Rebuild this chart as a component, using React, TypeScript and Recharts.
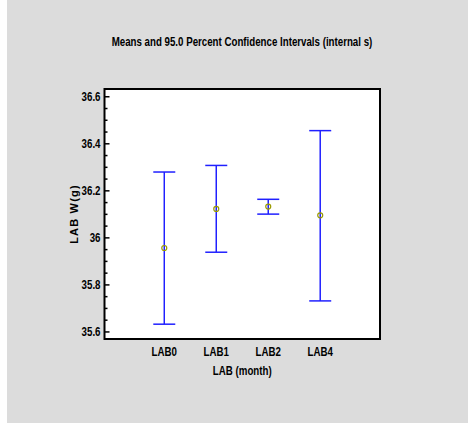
import { ComposedChart, Scatter, ErrorBar, XAxis, YAxis, ReferenceArea } from "recharts";

// data
const labels = ["LAB0", "LAB1", "LAB2", "LAB4"];
const positions = [1, 2, 3, 4];
const means = [35.957, 36.123, 36.133, 36.096];
const lower = [35.633, 35.939, 36.101, 35.732];
const upper = [36.28, 36.308, 36.164, 36.456];

const yMajor = [35.6, 35.8, 36, 36.2, 36.4, 36.6];
const yTicks = [
  35.6, 35.65, 35.7, 35.75, 35.8, 35.85, 35.9, 35.95, 36, 36.05, 36.1,
  36.15, 36.2, 36.25, 36.3, 36.35, 36.4, 36.45, 36.5, 36.55, 36.6,
];
const xDomain = [-0.15, 5.15];
const yDomain = [35.57, 36.633];

const data = positions.map((pos, i) => ({
  pos,
  mean: means[i],
  err: [means[i] - lower[i], upper[i] - means[i]],
}));

const FONT = '"Liberation Sans", Arial, sans-serif';
const NARROW = 0.81; // no narrow font installed, squeeze horizontally
const MARGIN = 4;

const isMajor = (v: number) => yMajor.some(m => Math.abs(m - v) < 1e-6);

// bold text squeezed like Arial Narrow
const Narrow = ({ x, y, anchor, children }: any) => (
  <text
    transform={`translate(${x} ${y}) scale(${NARROW} 1)`}
    textAnchor={anchor}
    fontFamily={FONT}
    fontWeight="bold"
    fontSize={12}
    fill="#000"
  >
    {children}
  </text>
);

const LeftTick = (props: any) => {
  const { x, y, payload } = props;
  const v = payload.value;
  const major = isMajor(v);
  const ax = x + MARGIN;
  return (
    <g>
      <line x1={ax} x2={ax + (major ? 5 : 3)} y1={y} y2={y} stroke="#000" strokeWidth={1.5} />
      {major && (
        <Narrow x={x} y={y + 4.3} anchor="end">
          {Number(v.toFixed(2)).toString()}
        </Narrow>
      )}
    </g>
  );
};

const RightTick = (props: any) => {
  const { x, y, payload } = props;
  const major = isMajor(payload.value);
  const ax = x - MARGIN;
  return <line x1={ax} x2={ax - (major ? 5 : 3)} y1={y} y2={y} stroke="#000" strokeWidth={1.5} />;
};

const BottomTick = (props: any) => {
  const { x, y, payload } = props;
  return (
    <Narrow x={x} y={y + 8} anchor="middle">
      {labels[positions.indexOf(payload.value)] ?? ""}
    </Narrow>
  );
};

const Dot = (props: any) => (
  <circle cx={props.cx} cy={props.cy} r={2.5} fill="none" stroke="#9a9a00" strokeWidth={1.2} />
);

export default function App() {
  return (
    <div style={{ position: "absolute", left: 0, top: 0, width: 468, height: 423, background: "#fff" }}>
      <div style={{ position: "absolute", left: 7, top: 0, width: 461, height: 423, background: "#dcdcdc" }} />
      <div style={{ position: "absolute", left: 0, top: 0 }}>
        <ComposedChart width={468} height={423} data={data} margin={{ top: 89, right: 88, bottom: 44, left: 0 }}>
          <Narrow x={242} y={46} anchor="middle">
            Means and 95.0 Percent Confidence Intervals (internal s)
          </Narrow>
          <XAxis
            type="number"
            dataKey="pos"
            domain={xDomain}
            ticks={positions}
            allowDataOverflow
            tickLine={false}
            axisLine={false}
            tickSize={0}
            tickMargin={9}
            height={40}
            tick={<BottomTick />}
            label={{
              content: ({ viewBox }: any) => (
                <Narrow x={viewBox.x + viewBox.width / 2} y={viewBox.y + 35.5} anchor="middle">
                  LAB (month)
                </Narrow>
              ),
            }}
          />
          <YAxis
            yAxisId="left"
            type="number"
            dataKey="mean"
            domain={yDomain}
            ticks={yTicks}
            interval={0}
            allowDataOverflow
            width={104.5}
            tickLine={false}
            axisLine={false}
            tickSize={0}
            tickMargin={MARGIN}
            tick={<LeftTick />}
            label={{
              content: ({ viewBox }: any) => {
                const cx = viewBox.x + 78;
                const cy = viewBox.y + viewBox.height / 2;
                return (
                  <text
                    x={cx}
                    y={cy}
                    transform={`rotate(-90 ${cx} ${cy})`}
                    textAnchor="middle"
                    fontFamily={FONT}
                    fontWeight="bold"
                    fontSize={11}
                    letterSpacing={1.2}
                    fill="#000"
                  >
                    LAB W(g)
                  </text>
                );
              },
            }}
          />
          <YAxis
            yAxisId="right"
            orientation="right"
            type="number"
            domain={yDomain}
            ticks={yTicks}
            interval={0}
            allowDataOverflow
            width={0}
            tickLine={false}
            axisLine={false}
            tickSize={0}
            tickMargin={MARGIN}
            tick={<RightTick />}
          />
          <ReferenceArea
            yAxisId="left"
            x1={xDomain[0]}
            x2={xDomain[1]}
            y1={yDomain[0]}
            y2={yDomain[1]}
            fill="#fff"
            fillOpacity={1}
            stroke="#000"
            strokeWidth={2}
            ifOverflow="visible"
          />
          <Scatter yAxisId="left" dataKey="mean" shape={<Dot />} isAnimationActive={false}>
            <ErrorBar dataKey="err" direction="y" width={11} stroke="#2020ff" strokeWidth={1.5} isAnimationActive={false} />
          </Scatter>
        </ComposedChart>
      </div>
    </div>
  );
}
